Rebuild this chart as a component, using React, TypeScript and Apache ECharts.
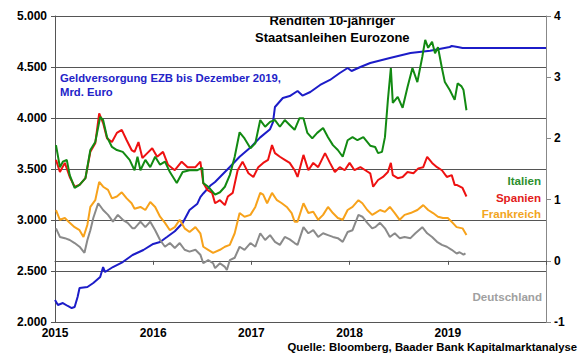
import React, { useEffect, useRef } from "react";
import * as echarts from "echarts";

// Yields (right axis, %), points as [decimal year, value]
const italien: [number, number][] = [
  [2015.01,1.89],[2015.05,1.53],[2015.08,1.62],[2015.12,1.65],[2015.15,1.40],[2015.20,1.19],[2015.25,1.24],[2015.31,1.35],[2015.36,1.81],[2015.41,1.94],[2015.46,2.35],[2015.49,2.30],[2015.53,2.02],[2015.58,1.86],[2015.63,1.81],[2015.69,1.78],[2015.76,1.65],[2015.81,1.48],[2015.84,1.70],[2015.87,1.48],[2015.92,1.65],[2015.97,1.53],[2016.02,1.70],[2016.07,1.57],[2016.12,1.62],[2016.17,1.45],[2016.24,1.27],[2016.30,1.45],[2016.37,1.48],[2016.45,1.48],[2016.50,1.52],[2016.51,1.27],[2016.56,1.21],[2016.63,1.08],[2016.68,1.12],[2016.73,1.21],[2016.78,1.40],[2016.83,1.70],[2016.88,2.10],[2016.93,2.00],[2016.99,1.84],[2017.04,1.92],[2017.09,2.30],[2017.14,2.19],[2017.19,2.27],[2017.24,2.30],[2017.29,2.19],[2017.34,2.30],[2017.39,2.22],[2017.44,2.14],[2017.49,2.33],[2017.53,2.33],[2017.57,2.09],[2017.62,2.00],[2017.67,2.09],[2017.73,2.17],[2017.78,2.02],[2017.83,1.89],[2017.88,1.81],[2017.93,1.70],[2017.98,1.97],[2018.03,2.02],[2018.08,1.97],[2018.14,2.02],[2018.21,1.88],[2018.26,1.86],[2018.29,1.76],[2018.33,1.78],[2018.36,2.02],[2018.39,2.63],[2018.42,3.15],[2018.44,2.58],[2018.49,2.68],[2018.54,2.50],[2018.59,2.84],[2018.64,3.15],[2018.69,2.92],[2018.74,3.33],[2018.77,3.61],[2018.80,3.48],[2018.84,3.58],[2018.87,3.39],[2018.90,3.49],[2018.94,3.15],[2018.97,2.92],[2019.02,2.79],[2019.07,2.63],[2019.10,2.90],[2019.14,2.85],[2019.16,2.79],[2019.19,2.46]
];
const spanien: [number, number][] = [
  [2015.01,1.65],[2015.05,1.45],[2015.10,1.60],[2015.15,1.37],[2015.20,1.21],[2015.25,1.24],[2015.31,1.35],[2015.36,1.78],[2015.41,1.92],[2015.45,2.41],[2015.49,2.25],[2015.53,2.00],[2015.58,1.94],[2015.63,2.09],[2015.68,2.14],[2015.73,1.97],[2015.78,1.81],[2015.81,1.78],[2015.85,1.94],[2015.89,1.68],[2015.94,1.76],[2015.99,1.84],[2016.04,1.70],[2016.10,1.78],[2016.15,1.57],[2016.22,1.48],[2016.29,1.62],[2016.35,1.53],[2016.43,1.53],[2016.48,1.62],[2016.51,1.27],[2016.55,1.16],[2016.60,1.11],[2016.63,0.94],[2016.68,0.99],[2016.73,0.91],[2016.76,1.05],[2016.81,1.11],[2016.86,1.48],[2016.91,1.62],[2016.97,1.43],[2017.02,1.37],[2017.07,1.53],[2017.12,1.60],[2017.17,1.65],[2017.21,1.89],[2017.24,1.76],[2017.29,1.70],[2017.34,1.65],[2017.39,1.60],[2017.44,1.48],[2017.47,1.37],[2017.53,1.73],[2017.58,1.48],[2017.63,1.60],[2017.68,1.53],[2017.75,1.76],[2017.80,1.60],[2017.85,1.45],[2017.90,1.53],[2017.95,1.48],[2018.00,1.60],[2018.05,1.48],[2018.11,1.53],[2018.16,1.48],[2018.21,1.43],[2018.24,1.21],[2018.29,1.32],[2018.34,1.37],[2018.39,1.45],[2018.42,1.60],[2018.44,1.40],[2018.49,1.35],[2018.54,1.37],[2018.59,1.45],[2018.65,1.43],[2018.70,1.51],[2018.75,1.53],[2018.79,1.70],[2018.84,1.60],[2018.89,1.53],[2018.94,1.48],[2018.99,1.37],[2019.04,1.40],[2019.07,1.24],[2019.09,1.24],[2019.15,1.19],[2019.19,1.05]
];
const frankreich: [number, number][] = [
  [2015.01,0.83],[2015.05,0.67],[2015.10,0.70],[2015.15,0.62],[2015.20,0.55],[2015.25,0.50],[2015.29,0.39],[2015.33,0.59],[2015.36,0.88],[2015.41,0.99],[2015.45,1.29],[2015.49,1.21],[2015.54,1.16],[2015.58,1.02],[2015.63,1.05],[2015.68,1.12],[2015.73,1.02],[2015.78,0.94],[2015.81,0.85],[2015.87,0.88],[2015.92,0.83],[2015.97,0.96],[2016.02,0.88],[2016.07,0.72],[2016.12,0.62],[2016.17,0.50],[2016.22,0.55],[2016.27,0.67],[2016.32,0.53],[2016.37,0.47],[2016.43,0.55],[2016.48,0.45],[2016.51,0.23],[2016.56,0.18],[2016.61,0.13],[2016.68,0.18],[2016.73,0.23],[2016.78,0.26],[2016.83,0.45],[2016.88,0.78],[2016.93,0.72],[2016.99,0.75],[2017.04,0.88],[2017.09,1.11],[2017.12,1.08],[2017.16,0.94],[2017.21,1.11],[2017.26,0.99],[2017.31,0.94],[2017.36,0.88],[2017.41,0.78],[2017.44,0.64],[2017.47,0.64],[2017.53,0.94],[2017.58,0.78],[2017.63,0.80],[2017.68,0.67],[2017.73,0.75],[2017.78,0.88],[2017.83,0.78],[2017.88,0.70],[2017.93,0.67],[2017.98,0.83],[2018.03,0.88],[2018.09,0.99],[2018.13,0.94],[2018.18,0.83],[2018.23,0.75],[2018.26,0.78],[2018.31,0.83],[2018.36,0.80],[2018.41,0.88],[2018.46,0.78],[2018.51,0.67],[2018.56,0.75],[2018.62,0.78],[2018.69,0.83],[2018.75,0.91],[2018.80,0.83],[2018.85,0.78],[2018.90,0.72],[2018.95,0.70],[2019.00,0.70],[2019.05,0.62],[2019.09,0.55],[2019.15,0.53],[2019.19,0.42]
];
const deutschland: [number, number][] = [
  [2015.01,0.53],[2015.05,0.39],[2015.10,0.37],[2015.15,0.34],[2015.20,0.29],[2015.25,0.23],[2015.30,0.13],[2015.33,0.34],[2015.36,0.50],[2015.39,0.70],[2015.44,0.94],[2015.49,0.83],[2015.54,0.75],[2015.59,0.64],[2015.64,0.75],[2015.69,0.67],[2015.74,0.62],[2015.79,0.53],[2015.81,0.53],[2015.87,0.64],[2015.92,0.55],[2015.97,0.64],[2016.02,0.50],[2016.07,0.34],[2016.12,0.23],[2016.17,0.29],[2016.22,0.21],[2016.27,0.29],[2016.32,0.18],[2016.37,0.15],[2016.43,0.18],[2016.48,0.10],[2016.51,-0.04],[2016.56,0.01],[2016.61,-0.04],[2016.63,-0.12],[2016.68,-0.04],[2016.73,-0.10],[2016.75,-0.15],[2016.78,0.01],[2016.83,0.05],[2016.88,0.23],[2016.93,0.18],[2016.99,0.29],[2017.04,0.23],[2017.09,0.45],[2017.14,0.34],[2017.19,0.42],[2017.24,0.31],[2017.29,0.26],[2017.34,0.39],[2017.39,0.35],[2017.44,0.29],[2017.47,0.26],[2017.53,0.55],[2017.58,0.45],[2017.63,0.50],[2017.68,0.39],[2017.73,0.45],[2017.78,0.42],[2017.83,0.39],[2017.88,0.37],[2017.93,0.31],[2017.98,0.47],[2018.03,0.50],[2018.09,0.75],[2018.13,0.72],[2018.18,0.62],[2018.23,0.53],[2018.26,0.55],[2018.31,0.62],[2018.36,0.53],[2018.41,0.39],[2018.46,0.45],[2018.51,0.37],[2018.56,0.39],[2018.62,0.37],[2018.67,0.45],[2018.74,0.55],[2018.79,0.45],[2018.84,0.39],[2018.89,0.31],[2018.94,0.26],[2018.99,0.23],[2019.04,0.18],[2019.09,0.12],[2019.12,0.14],[2019.16,0.10],[2019.18,0.12]
];
// ECB money supply (left axis, Mrd. Euro)
const ezb: [number, number][] = [
  [2015.00,2216],[2015.03,2167],[2015.08,2186],[2015.13,2157],[2015.17,2137],[2015.20,2147],[2015.23,2245],[2015.25,2333],[2015.33,2343],[2015.39,2382],[2015.46,2441],[2015.49,2539],[2015.51,2490],[2015.59,2539],[2015.69,2588],[2015.79,2657],[2015.90,2706],[2016.00,2765],[2016.07,2784],[2016.14,2833],[2016.22,2890],[2016.30,2971],[2016.37,3098],[2016.45,3160],[2016.48,3225],[2016.51,3260],[2016.58,3335],[2016.63,3373],[2016.68,3422],[2016.78,3520],[2016.88,3620],[2016.99,3710],[2017.09,3810],[2017.19,3890],[2017.22,3960],[2017.24,4108],[2017.32,4196],[2017.39,4215],[2017.47,4265],[2017.52,4220],[2017.60,4255],[2017.70,4324],[2017.80,4373],[2017.90,4441],[2017.98,4490],[2018.02,4461],[2018.11,4500],[2018.21,4539],[2018.41,4588],[2018.62,4637],[2018.82,4660],[2019.02,4696],[2019.04,4706],[2019.10,4696],[2019.15,4686],[2020.00,4686]
];

const leftTicks = { min: 2000, max: 5000, step: 500 };
const rightTicks = { min: -1, max: 4, step: 1 };
const years = { min: 2015, max: 2020, step: 1 };

const FONT = "'Liberation Sans', Arial, sans-serif";

export default function App() {
  const ref = useRef<HTMLDivElement>(null);
  useEffect(() => {
    if (!ref.current) return;
    const chart = echarts.init(ref.current, undefined, { renderer: "svg" });
    const axisLbl = { color: "#000", fontWeight: "bold" as const, fontSize: 12, fontFamily: FONT };
    const lineCol = "#555";
    chart.setOption({
      animation: false,
      backgroundColor: "#fff",
      grid: { left: 55, right: 34, top: 16, bottom: 37, containLabel: false },
      xAxis: {
        type: "value",
        min: years.min,
        max: years.max,
        interval: years.step,
        axisLine: { show: true, lineStyle: { color: lineCol, width: 1 } },
        axisTick: { show: true, length: 4, lineStyle: { color: lineCol } },
        splitLine: { show: false },
        axisLabel: { ...axisLbl, margin: 5, formatter: (v: number) => (v === years.max ? "" : String(v)) },
      },
      yAxis: [
        {
          type: "value",
          position: "left",
          min: leftTicks.min,
          max: leftTicks.max,
          interval: leftTicks.step,
          axisLine: { show: true, lineStyle: { color: lineCol, width: 1 } },
          axisTick: { show: true, length: 4, lineStyle: { color: lineCol } },
          splitLine: { show: true, lineStyle: { color: lineCol, width: 1 } },
          axisLabel: {
            ...axisLbl,
            margin: 8,
            formatter: (v: number) => `${Math.floor(v / 1000)}.${String(v % 1000).padStart(3, "0")}`,
          },
        },
        {
          type: "value",
          position: "right",
          min: rightTicks.min,
          max: rightTicks.max,
          interval: rightTicks.step,
          axisLine: { show: true, lineStyle: { color: "#888", width: 1 } },
          axisTick: { show: true, length: 5, lineStyle: { color: "#888" } },
          splitLine: { show: false },
          axisLabel: { ...axisLbl, margin: 8 },
        },
      ],
      series: [
        { name: "EZB", type: "line", yAxisIndex: 0, data: ezb, showSymbol: false, lineStyle: { color: "#1c1cc8", width: 2 } },
        { name: "Deutschland", type: "line", yAxisIndex: 1, data: deutschland, showSymbol: false, lineStyle: { color: "#8a8a8a", width: 2 } },
        { name: "Frankreich", type: "line", yAxisIndex: 1, data: frankreich, showSymbol: false, lineStyle: { color: "#f7a21b", width: 2 } },
        { name: "Spanien", type: "line", yAxisIndex: 1, data: spanien, showSymbol: false, lineStyle: { color: "#ee1111", width: 2 } },
        { name: "Italien", type: "line", yAxisIndex: 1, data: italien, showSymbol: false, lineStyle: { color: "#128a12", width: 2 } },
      ],
      graphic: [
        {
          type: "text", left: 325 - 70, top: 12,
          style: { text: "Renditen 10-jähriger\nStaatsanleihen Eurozone", x: 70, textAlign: "center", font: `bold 13px ${FONT}`, lineHeight: 17, fill: "#000" },
        },
        {
          type: "text", x: 60, y: 71,
          style: { text: "Geldversorgung EZB bis Dezember 2019,\nMrd. Euro", font: `bold 11.3px ${FONT}`, lineHeight: 14, fill: "#2323c8" },
        },
        { type: "text", x: 541, y: 180, style: { text: "Italien", textAlign: "right", textVerticalAlign: "middle", font: `bold 11.6px ${FONT}`, fill: "#2d8f2d" } },
        { type: "text", x: 541, y: 197, style: { text: "Spanien", textAlign: "right", textVerticalAlign: "middle", font: `bold 11.6px ${FONT}`, fill: "#e31b1b" } },
        { type: "text", x: 541, y: 213, style: { text: "Frankreich", textAlign: "right", textVerticalAlign: "middle", font: `bold 11.6px ${FONT}`, fill: "#f2a51e" } },
        { type: "text", x: 542, y: 296, style: { text: "Deutschland", textAlign: "right", textVerticalAlign: "middle", font: `bold 11.6px ${FONT}`, fill: "#a0a0a0" } },
        { type: "text", x: 577, y: 347, style: { text: "Quelle: Bloomberg, Baader Bank Kapitalmarktanalyse", textAlign: "right", textVerticalAlign: "middle", font: `bold 11.3px ${FONT}`, fill: "#000" } },
      ],
    });
    return () => chart.dispose();
  }, []);
  return <div ref={ref} style={{ width: 580, height: 359, position: "absolute", left: 0, top: 0 }} />;
}
